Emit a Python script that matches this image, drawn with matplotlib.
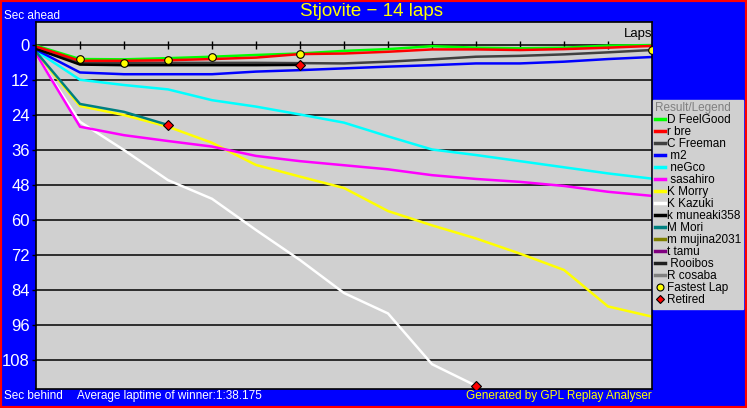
import matplotlib
matplotlib.use('Agg')
import matplotlib.pyplot as plt
from matplotlib.lines import Line2D
from matplotlib.patches import Rectangle

plt.rcParams['font.family'] = ['Liberation Sans', 'DejaVu Sans']

# lap index 0..14, seconds behind the winner's average pace
laps = list(range(15))
drivers = ['D FeelGood', 'r bre', 'C Freeman', ' m2', ' neGco', ' sasahiro', 'K Morry',
           'K Kazuki', 'k muneaki358', 'M Mori', 'm mujina2031', 't tamu', ' Rooibos', 'R cosaba']
colors = ['#00ff00', '#ff0000', '#404040', '#0000ff', '#00ffff', '#ff00ff', '#ffff00',
          '#ffffff', '#000000', '#008080', '#808000', '#800080', '#202020', '#808080']

feelgood = [0.2, 4.8, 4.9, 4.5, 4.0, 3.4, 2.9, 2.0, 1.4, 0.4, 0.9, 1.1, 0.9, 0.2, 0.0]
bre = [0.5, 5.4, 5.4, 5.2, 4.8, 4.3, 3.1, 2.9, 2.3, 1.5, 1.5, 1.7, 1.4, 0.9, 0.3]
freeman = [1.0, 6.1, 6.1, 6.1, 6.1, 6.1, 6.2, 6.3, 5.7, 4.9, 4.0, 3.7, 3.2, 2.5, 1.7]
m2 = [1.6, 9.4, 10.0, 10.0, 10.0, 9.1, 8.6, 8.0, 7.4, 6.9, 6.3, 6.3, 5.7, 4.8, 4.1]
negco = [2.0, 11.9, 13.7, 15.2, 18.9, 21.1, 23.8, 26.6, 31.3, 35.8, 37.7, 39.8, 41.9, 44.0, 45.8]
sasahiro = [3.0, 28.0, 30.9, 32.9, 34.8, 38.0, 39.8, 41.2, 42.6, 44.6, 45.9, 46.9, 48.3, 50.3, 51.7]
morry = [2.6, 20.9, 24.0, 28.0, 33.5, 41.1, 45.1, 49.0, 56.9, 61.8, 66.3, 71.5, 77.1, 89.6, 93.1]
kazuki = [3.3, 26.3, 36.0, 46.3, 52.7, 63.4, 73.7, 85.0, 92.0, 109.4, 116.8]
muneaki = [1.3, 6.7, 6.9, 6.9, 6.9, 6.9, 6.8]
mori = [2.3, 20.2, 22.9, 27.4]
series = [feelgood, bre, freeman, m2, negco, sasahiro, morry, kazuki, muneaki, mori]

fastest_laps = [1, 2, 3, 4, 6, 14]
fastest_vals = [4.9, 6.1, 5.1, 4.0, 2.9, 1.7]
retired_laps = [3, 6, 10]
retired_vals = [27.4, 6.8, 116.8]

yticks = list(range(0, 109, 12))

W, H = 747, 408
fig = plt.figure(figsize=(W / 100, H / 100), dpi=100)
fig.patch.set_facecolor('#0000ff')
ax = fig.add_axes([36 / W, (H - 389) / H, 616 / W, 367 / H])
ax.set_facecolor('#d0d0d0')

for yt in yticks:
    ax.axhline(yt, color='black', lw=1.1, zorder=1)
ax.vlines(laps[1:], -1.4, 1.4, color='black', lw=1.0, zorder=1)

# draw from last to first so the leaders sit on top
order = [7, 6, 5, 4, 9, 3, 2, 8, 0, 1]
for i in order:
    vals = series[i]
    ax.plot(laps[:len(vals)], vals, color=colors[i], lw=1.8, zorder=2,
            solid_joinstyle='miter')

ax.plot(fastest_laps, fastest_vals, 'o', ms=5.5, mfc='#ffff00', mec='black', mew=0.8, zorder=4)
ax.plot(retired_laps, retired_vals, 'D', ms=5, mfc='#ff0000', mec='black', mew=0.8, zorder=4)

ax.set_xlim(0, 14)
ax.set_ylim(117.9, -7.9)
ax.set_xticks([])
ax.set_yticks(yticks)
ax.set_yticklabels([str(v) for v in yticks], color='white', fontsize=12)
ax.tick_params(axis='y', length=3, width=1, color='black', pad=1.5)
for s in ax.spines.values():
    s.set_color('black')
    s.set_linewidth(1.2)

ax.text(14, -1.6, 'Laps', ha='right', va='bottom', fontsize=9.5, color='black')

fig.text(372 / W, 1 - 11 / H, 'Stjovite \u2212 14 laps', ha='center', va='center',
         color='#ffff00', fontsize=13.5)
fig.text(4 / W, 1 - 16 / H, 'Sec ahead', ha='left', va='center', color='white', fontsize=8.5)
fig.text(4 / W, 1 - 396 / H, 'Sec behind', ha='left', va='center', color='white', fontsize=8.5)
fig.text(77 / W, 1 - 396 / H, 'Average laptime of winner:1:38.175', ha='left', va='center',
         color='white', fontsize=8.5)
fig.text(652 / W, 1 - 396 / H, 'Generated by GPL Replay Analyser', ha='right', va='center',
         color='#ffff00', fontsize=8.5)

handles = [Line2D([], [], color=c, lw=2.5) for c in colors]
handles.append(Line2D([], [], ls='none', marker='o', ms=5, mfc='#ffff00', mec='black', mew=0.8))
handles.append(Line2D([], [], ls='none', marker='D', ms=4.5, mfc='#ff0000', mec='black', mew=0.8))
labels = drivers + ['Fastest Lap', 'Retired']
leg = fig.legend(handles, labels, loc='upper left', bbox_to_anchor=(653 / W, 1 - 100 / H),
                 title='Result/Legend', fontsize=8.5, title_fontsize=8.5, frameon=True,
                 fancybox=False, facecolor='#d0d0d0', edgecolor='#d0d0d0', framealpha=1,
                 handlelength=0.8, handletextpad=0.15, labelspacing=0.0, borderpad=0.2,
                 borderaxespad=0, alignment='left')
leg.get_title().set_color('#808080')

fig.patches.append(Rectangle((0, 0), 1, 1, transform=fig.transFigure, fill=False,
                             edgecolor='#ff0000', lw=3))

fig.savefig('out.png', dpi=100, facecolor=fig.get_facecolor())
